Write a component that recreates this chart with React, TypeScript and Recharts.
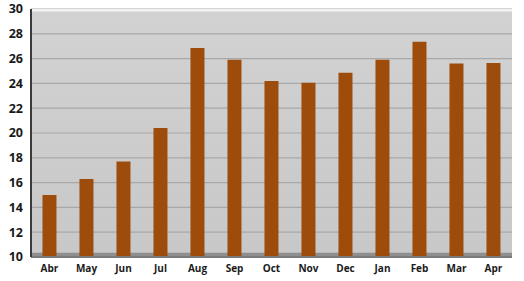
import { BarChart, Bar, XAxis, YAxis, CartesianGrid, ReferenceArea } from 'recharts';

const months = ['Abr', 'May', 'Jun', 'Jul', 'Aug', 'Sep', 'Oct', 'Nov', 'Dec', 'Jan', 'Feb', 'Mar', 'Apr'];
const values = [15.0, 16.3, 17.7, 20.4, 26.85, 25.9, 24.2, 24.05, 24.85, 25.9, 27.35, 25.6, 25.65];
const yTicks = [10, 12, 14, 16, 18, 20, 22, 24, 26, 28, 30];

const data = months.map((m, i) => ({ month: m, value: values[i] }));

const font = "'Open Sans', 'Liberation Sans', sans-serif";

export default function App() {
  return (
    <div style={{ position: 'absolute', left: 0, top: 0, width: 524, height: 281, background: '#ffffff' }}>
      <BarChart
        width={524}
        height={281}
        data={data}
        margin={{ top: 9, right: 12, left: 0, bottom: 4 }}
        barCategoryGap="31%"
      >
        <defs>
          <linearGradient id="wall" x1="0" y1="0" x2="0" y2="1">
            <stop offset="0%" stopColor="#d2d2d2" />
            <stop offset="100%" stopColor="#c8c8c8" />
          </linearGradient>
        </defs>
        <CartesianGrid
          vertical={false}
          stroke="#a8a8a8"
          strokeWidth={1.2}
          fill="url(#wall)"
          fillOpacity={1}
        />
        <ReferenceArea y1={29.8} y2={30} fill="#f2f2f2" fillOpacity={1} stroke="none" />
        <ReferenceArea y1={10} y2={10.35} fill="#8f8f8f" fillOpacity={1} stroke="none" />
        <XAxis
          dataKey="month"
          tickLine={false}
          axisLine={{ stroke: '#7a7a7a', strokeWidth: 2 }}
          tick={{ fontSize: 10, fontWeight: 700, fill: '#1a1a1a', fontFamily: font }}
          height={20}
          interval={0}
        />
        <YAxis
          domain={[10, 30]}
          ticks={yTicks}
          width={31}
          tickLine={false}
          axisLine={{ stroke: '#3a3a3a', strokeWidth: 2 }}
          tick={{ fontSize: 12.5, fontWeight: 700, fill: '#1a1a1a', fontFamily: font }}
          interval={0}
        />
        <YAxis
          yAxisId="right"
          orientation="right"
          domain={[10, 30]}
          width={0}
          tick={false}
          tickLine={false}
          axisLine={{ stroke: '#8a8a8a', strokeWidth: 3 }}
        />
        <Bar dataKey="value" fill="#9e4c0c" isAnimationActive={false} />
      </BarChart>
    </div>
  );
}
